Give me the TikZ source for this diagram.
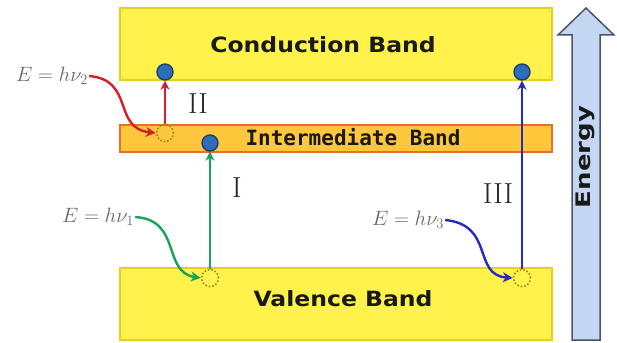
\documentclass[tikz,border=0pt]{standalone}
\usepackage{fontspec}
\setsansfont{DejaVu Sans}
\newfontfamily\monofam{DejaVu Sans Mono}
\usetikzlibrary{arrows.meta}
\definecolor{bandfill}{RGB}{255,243,75}
\definecolor{banddraw}{RGB}{235,205,30}
\definecolor{ibfill}{RGB}{255,200,60}
\definecolor{ibdraw}{RGB}{235,110,40}
\definecolor{elfill}{RGB}{45,110,185}
\definecolor{eldraw}{RGB}{30,60,110}
\definecolor{holedraw}{RGB}{160,120,30}
\definecolor{enfill}{RGB}{195,215,242}
\definecolor{endraw}{RGB}{75,85,105}
\definecolor{myred}{RGB}{215,30,40}
\definecolor{mygreen}{RGB}{20,165,90}
\definecolor{myblue}{RGB}{40,40,195}
\definecolor{labgray}{RGB}{105,105,105}
\tikzset{
  bandbox/.style={draw=banddraw, fill=bandfill, line width=2pt, minimum width=432pt, minimum height=72pt, inner sep=0pt},
  ibbox/.style={draw=ibdraw, fill=ibfill, line width=2pt, minimum width=432pt, minimum height=27pt, inner sep=0pt},
  bandtext/.style={font=\fontsize{21}{24}\selectfont\sffamily\bfseries, text=black!90, inner sep=0pt},
  electron/.style={circle, draw=eldraw, fill=elfill, line width=1.4pt, minimum size=16pt, inner sep=0pt},
  hole/.style={circle, draw=holedraw, dotted, line width=1.5pt, minimum size=17pt, inner sep=0pt},
  trans/.style={line width=2.2pt, -{Stealth[length=9pt,width=9pt]}},
  photon/.style={line width=2.4pt, -{Stealth[length=10pt,width=10pt]}},
  eqlab/.style={font=\fontsize{22}{24}\selectfont, text=labgray, inner sep=1pt},
  roman/.style={font=\fontsize{29}{32}\selectfont, text=black!85, inner sep=0pt}
}
\begin{document}
\begin{tikzpicture}[x=1pt,y=-1pt]
\useasboundingbox (0,0) rectangle (617,342);
\fill[white] (0,0) rectangle (617,342);
% bands
\node[bandbox] (cb) at (336,44) {};
\node[ibbox] (ib) at (336,138.5) {};
\node[bandbox] (vb) at (336,304) {};
\node[bandtext] (cbt) at (323,45) {\scalebox{1.12}[1]{Conduction Band}};
\node[bandtext] (vbt) at (343,299) {\scalebox{1.12}[1]{Valence Band}};
\node[font=\fontsize{21}{24}\selectfont\monofam\bfseries, text=black!90, inner sep=0pt] (ibt) at (353,137) {Intermediate Band};
% energy arrow
\draw[draw=endraw, fill=enfill, line width=1.5pt, line join=miter]
  (572,340) -- (572,35) -- (558,35) -- (586,8) -- (614,35) -- (600,35) -- (600,340) -- cycle;
\node[font=\fontsize{20}{22}\selectfont\sffamily\bfseries, text=black!90, rotate=90, inner sep=0pt] (en) at (585,157) {\scalebox{1.3}[1]{Energy}};
% electrons and holes
\node[electron] (e2) at (165,72) {};
\node[hole] (h2) at (165,133) {};
\node[electron] (e1) at (210,143) {};
\node[hole] (h1) at (210,278) {};
\node[electron] (e3) at (522,72) {};
\node[hole] (h3) at (522,278) {};
% transitions
\draw[trans, myred] (h2) -- (e2);
\draw[trans, mygreen] (h1) -- (e1);
\draw[trans, myblue] (h3) -- (e3);
% roman labels
\node[roman] (r2) at (198,104) {II};
\node[roman] (r1) at (237,188) {I};
\node[roman] (r3) at (498,194) {III};
% photon labels
\node[eqlab] (p2) at (52,76) {$E = h\nu_2$};
\node[eqlab] (p1) at (98,217) {$E = h\nu_1$};
\node[eqlab] (p3) at (408,220) {$E = h\nu_3$};
\draw[photon, myred] (p2.east) .. controls (135,80) and (112,128) .. (h2.west);
\draw[photon, mygreen] (p1.east) .. controls (182,220) and (162,272) .. (h1.west);
\draw[photon, myblue] (p3.east) .. controls (495,225) and (472,275) .. (h3.west);
\end{tikzpicture}
\end{document}
